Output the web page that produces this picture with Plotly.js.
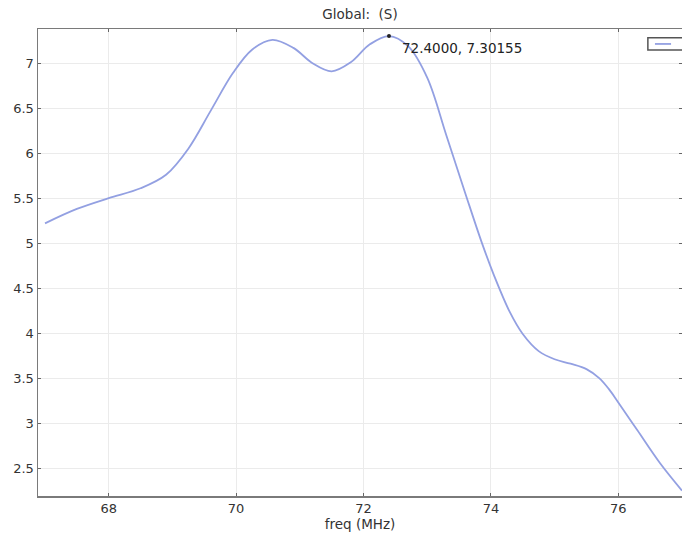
<!DOCTYPE html>
<html>
<head>
<meta charset="utf-8">
<script src="https://cdn.plot.ly/plotly-3.0.1.min.js"></script>
<style>
  html, body { margin: 0; padding: 0; background: #fff; }
  #chart { width: 682px; height: 533px; }
</style>
</head>
<body>
<div id="chart"></div>
<script>
// Frequency sweep (MHz) and the global quantity S
var freq = [67.0, 67.5, 68.0, 68.5, 68.9, 69.25, 69.6, 69.95, 70.25, 70.57, 70.9, 71.2, 71.5, 71.8,
            72.1, 72.4, 72.7, 73.0, 73.3, 73.6, 73.85, 74.05, 74.3, 74.5, 74.75, 75.0, 75.25, 75.5,
            75.7, 75.85, 76.0, 76.3, 76.65, 77.0];
var S = [5.22, 5.38, 5.5, 5.61, 5.76, 6.05, 6.47, 6.89, 7.15, 7.26, 7.17, 7.0, 6.91, 7.01,
         7.21, 7.30155, 7.19, 6.84, 6.2, 5.55, 5.02, 4.64, 4.23, 3.99, 3.8, 3.71, 3.66, 3.6,
         3.5, 3.38, 3.23, 2.92, 2.56, 2.25];

// Point evaluation at the peak
var peakFreq = [72.4];
var peakS = [7.30155];
var peakLabel = "72.4000, 7.30155";

var xTicks = [68, 70, 72, 74, 76];
var yTicks = [2.5, 3, 3.5, 4, 4.5, 5, 5.5, 6, 6.5, 7];

var lineColor = "#93a0e2";
var family = "DejaVu Sans, Verdana, sans-serif";
var tickFont = { family: family, size: 13, color: "#333" };
var labelFont = { family: family, size: 13.5, color: "#333" };

var traces = [
  {
    x: freq, y: S, type: "scatter", mode: "lines",
    line: { color: lineColor, width: 1.8, shape: "spline", smoothing: 1.0 },
    showlegend: false, hoverinfo: "x+y"
  },
  {
    x: peakFreq, y: peakS, type: "scatter", mode: "markers",
    marker: { color: "#222", size: 4 }, showlegend: false, hoverinfo: "skip"
  }
];

var axisCommon = {
  showline: true, linecolor: "#7a7a7a", linewidth: 1.5, mirror: "ticks",
  showgrid: true, gridcolor: "#ebebeb", gridwidth: 1,
  ticks: "inside", ticklen: 3, tickcolor: "#666", tickwidth: 1,
  zeroline: false, tickfont: tickFont
};

var layout = {
  width: 682, height: 533,
  margin: { l: 38, r: 0, t: 29, b: 37, autoexpand: false },
  paper_bgcolor: "#fff", plot_bgcolor: "#fff",
  font: tickFont,
  title: { text: "Global:  (S)", font: labelFont,
           x: 0.5, xref: "paper", y: 0.974, yref: "container", yanchor: "middle" },
  xaxis: Object.assign({}, axisCommon, {
    range: [66.89, 77.0], tickvals: xTicks,
    title: { text: "freq (MHz)", font: labelFont, standoff: 1 }
  }),
  yaxis: Object.assign({}, axisCommon, {
    range: [2.19, 7.38], tickvals: yTicks
  }),
  showlegend: false,
  // compact legend box in the top-right corner (runs past the right edge)
  shapes: [
    { type: "rect", xref: "paper", yref: "paper", x0: 0.947, x1: 1.06, y0: 0.955, y1: 0.981,
      line: { color: "#555", width: 1.5 }, fillcolor: "#fff", layer: "above" },
    { type: "line", xref: "paper", yref: "paper", x0: 0.958, x1: 0.983, y0: 0.968, y1: 0.968,
      line: { color: lineColor, width: 1.8 }, layer: "above" }
  ],
  annotations: [
    {
      x: peakFreq[0], y: peakS[0], xref: "x", yref: "y",
      text: peakLabel, showarrow: false, xanchor: "left", yanchor: "middle",
      xshift: 11, yshift: -12, font: { family: family, size: 13.5, color: "#222" }
    }
  ]
};

Plotly.newPlot("chart", traces, layout, { displayModeBar: false, staticPlot: true });
</script>
</body>
</html>
